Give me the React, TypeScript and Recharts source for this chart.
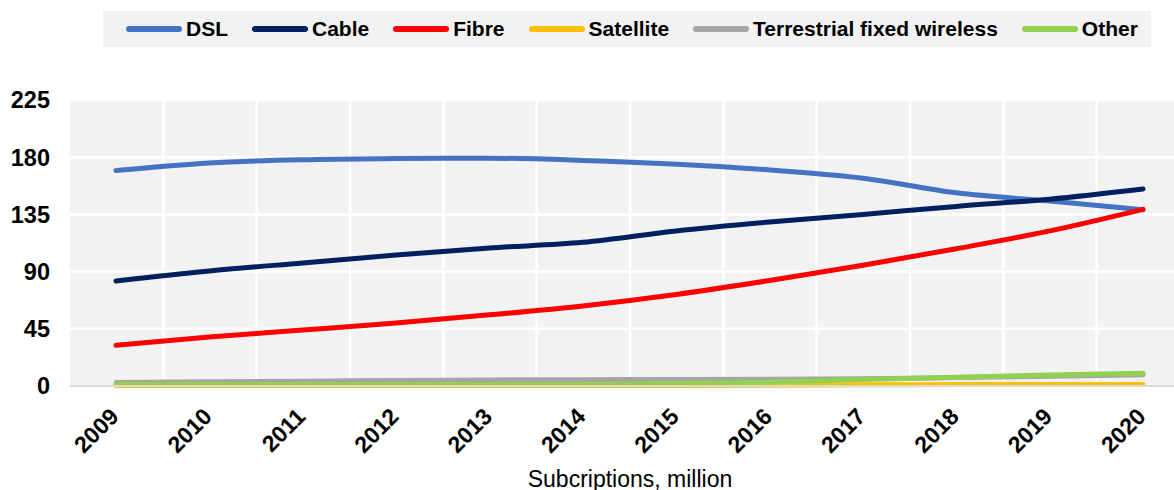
import { LineChart, Line, XAxis, YAxis, CartesianGrid } from 'recharts';

const years = ['2009', '2010', '2011', '2012', '2013', '2014', '2015', '2016', '2017', '2018', '2019', '2020'];
const dsl = [169.6, 175.5, 178, 178.9, 179.2, 177.5, 174.5, 170, 163.5, 152, 145.5, 138.7];
const cable = [82.6, 90.5, 96.8, 103, 108.6, 113, 122, 129, 135, 141.3, 147, 155];
const fibre = [32, 38.5, 44, 49.6, 56, 63, 72, 83, 95, 108, 122, 139];
const satellite = [0.3, 0.3, 0.3, 0.3, 0.3, 0.3, 0.4, 0.6, 1.0, 1.1, 1.1, 1.1];
const terrestrial = [2.8, 3.3, 3.8, 4.3, 4.8, 5.0, 5.1, 5.3, 5.8, 6.6, 7.6, 8.8];
const other = [1.3, 1.2, 1.1, 1.1, 1.1, 1.2, 1.8, 3.0, 5.2, 6.8, 8.7, 10];
const yTicks = [0, 45, 90, 135, 180, 225];

const series = [
  { key: 'dsl', name: 'DSL', color: '#4472C4', values: dsl },
  { key: 'cable', name: 'Cable', color: '#002060', values: cable },
  { key: 'fibre', name: 'Fibre', color: '#FF0000', values: fibre },
  { key: 'satellite', name: 'Satellite', color: '#FFC000', values: satellite },
  { key: 'terrestrial', name: 'Terrestrial fixed wireless', color: '#A5A5A5', values: terrestrial },
  { key: 'other', name: 'Other', color: '#92D050', values: other },
];

const data = years.map((year, i) => {
  const row: any = { year };
  series.forEach((s) => (row[s.key] = s.values[i]));
  return row;
});

const font = '"Liberation Sans", Arial, sans-serif';

const YearTick = ({ x, y, payload }: any) => (
  <g transform={`translate(${x + 4},${y + 32})`}>
    <text textAnchor="end" transform="rotate(-45)" fontSize={23} fontWeight="bold" fill="#000" fontFamily={font}>
      {payload.value}
    </text>
  </g>
);

export default function App() {
  return (
    <div style={{ position: 'absolute', left: 0, top: 0, width: 1174, height: 490, overflow: 'hidden', background: '#fff', fontFamily: font }}>
      <div
        style={{
          position: 'absolute', left: 103, top: 11, width: 1048, height: 36, background: '#f2f2f2',
          display: 'flex', alignItems: 'center', paddingLeft: 23, boxSizing: 'border-box', gap: 24,
        }}
      >
        {series.map((s) => (
          <div key={s.key} style={{ display: 'flex', alignItems: 'center' }}>
            <div style={{ width: 56, height: 6, borderRadius: 3, background: s.color, marginRight: 4 }} />
            <span style={{ fontSize: 21, fontWeight: 'bold', color: '#000' }}>{s.name}</span>
          </div>
        ))}
      </div>
      <LineChart width={1200} height={490} data={data} margin={{ top: 100, right: 10, left: 0, bottom: 0 }}>
        <CartesianGrid
          fill="#f2f2f2"
          stroke="#ffffff"
          strokeWidth={2.5}
          verticalCoordinatesGenerator={({ offset }: any) =>
            years.slice(1).map((_, i) => offset.left + ((i + 1) * offset.width) / years.length)
          }
        />
        <XAxis
          dataKey="year"
          height={104}
          padding={{ left: 46, right: 47 }}
          tickSize={0}
          tickMargin={0}
          tickLine={false}
          axisLine={{ stroke: '#d9d9d9', strokeWidth: 2 }}
          tick={<YearTick />}
          interval={0}
          label={{ value: 'Subcriptions, million', position: 'insideBottom', offset: 3, fontSize: 23, fill: '#000', fontFamily: font }}
        />
        <YAxis
          width={70}
          domain={[0, 225]}
          ticks={yTicks}
          axisLine={false}
          tickLine={false}
          tickSize={0}
          tickMargin={20}
          tick={{ fontSize: 23.5, fontWeight: 'bold', fill: '#000', fontFamily: font }}
        />
        {series.map((s) => (
          <Line
            key={s.key}
            type="monotone"
            dataKey={s.key}
            name={s.name}
            stroke={s.color}
            strokeWidth={5}
            strokeLinecap="round"
            dot={false}
            activeDot={false}
            isAnimationActive={false}
          />
        ))}
      </LineChart>
    </div>
  );
}
